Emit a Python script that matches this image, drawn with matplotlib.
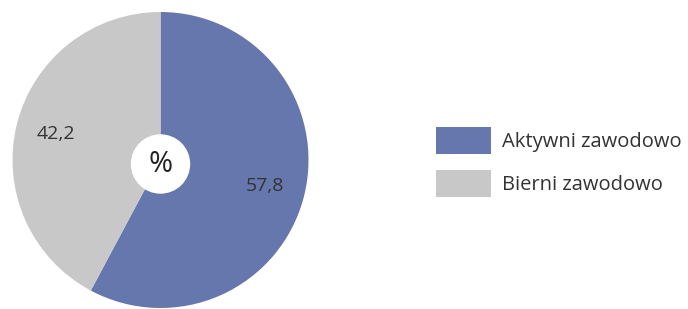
import matplotlib
matplotlib.use("Agg")
import matplotlib.pyplot as plt
from matplotlib.patches import Patch, Circle
import numpy as np

categories = ["Aktywni zawodowo", "Bierni zawodowo"]
values = [57.8, 42.2]
value_labels = ["57,8", "42,2"]
colors = ["#6677AD", "#C7C8C7"]

W, H = 688, 309
fig = plt.figure(figsize=(W / 100, H / 100), dpi=100)
ax = fig.add_axes([0, 0, 1, 1])

cx, cy, r = 160.5, 149, 148
wedges, texts = ax.pie(values, colors=colors, startangle=90, counterclock=False,
                       center=(cx, cy), radius=r, labels=value_labels,
                       labeldistance=0.73, frame=True,
                       textprops=dict(fontsize=14, color="#333333", family="Open Sans"))
for t in texts:
    t.set_ha("center")
    t.set_va("center")
ax.set_xlim(0, W)
ax.set_ylim(0, H)
ax.set_aspect("equal")
ax.axis("off")

ax.add_patch(Circle((cx, cy - 4), 29, color="white", zorder=5))
ax.text(cx, cy - 4, "%", ha="center", va="center", fontsize=21, color="#222222",
        family="Open Sans", zorder=6)

handles = [Patch(facecolor=c, edgecolor="none") for c in colors]
fig.legend(handles, categories, loc="center left", bbox_to_anchor=(428 / W, 1 - 162 / H),
           frameon=False, handlelength=2.75, handleheight=1.7,
           handletextpad=0.5, labelspacing=0.75, borderaxespad=0,
           prop=dict(family="Open Sans", size=14.5), labelcolor="#333333")

fig.savefig("out.png", dpi=100)
